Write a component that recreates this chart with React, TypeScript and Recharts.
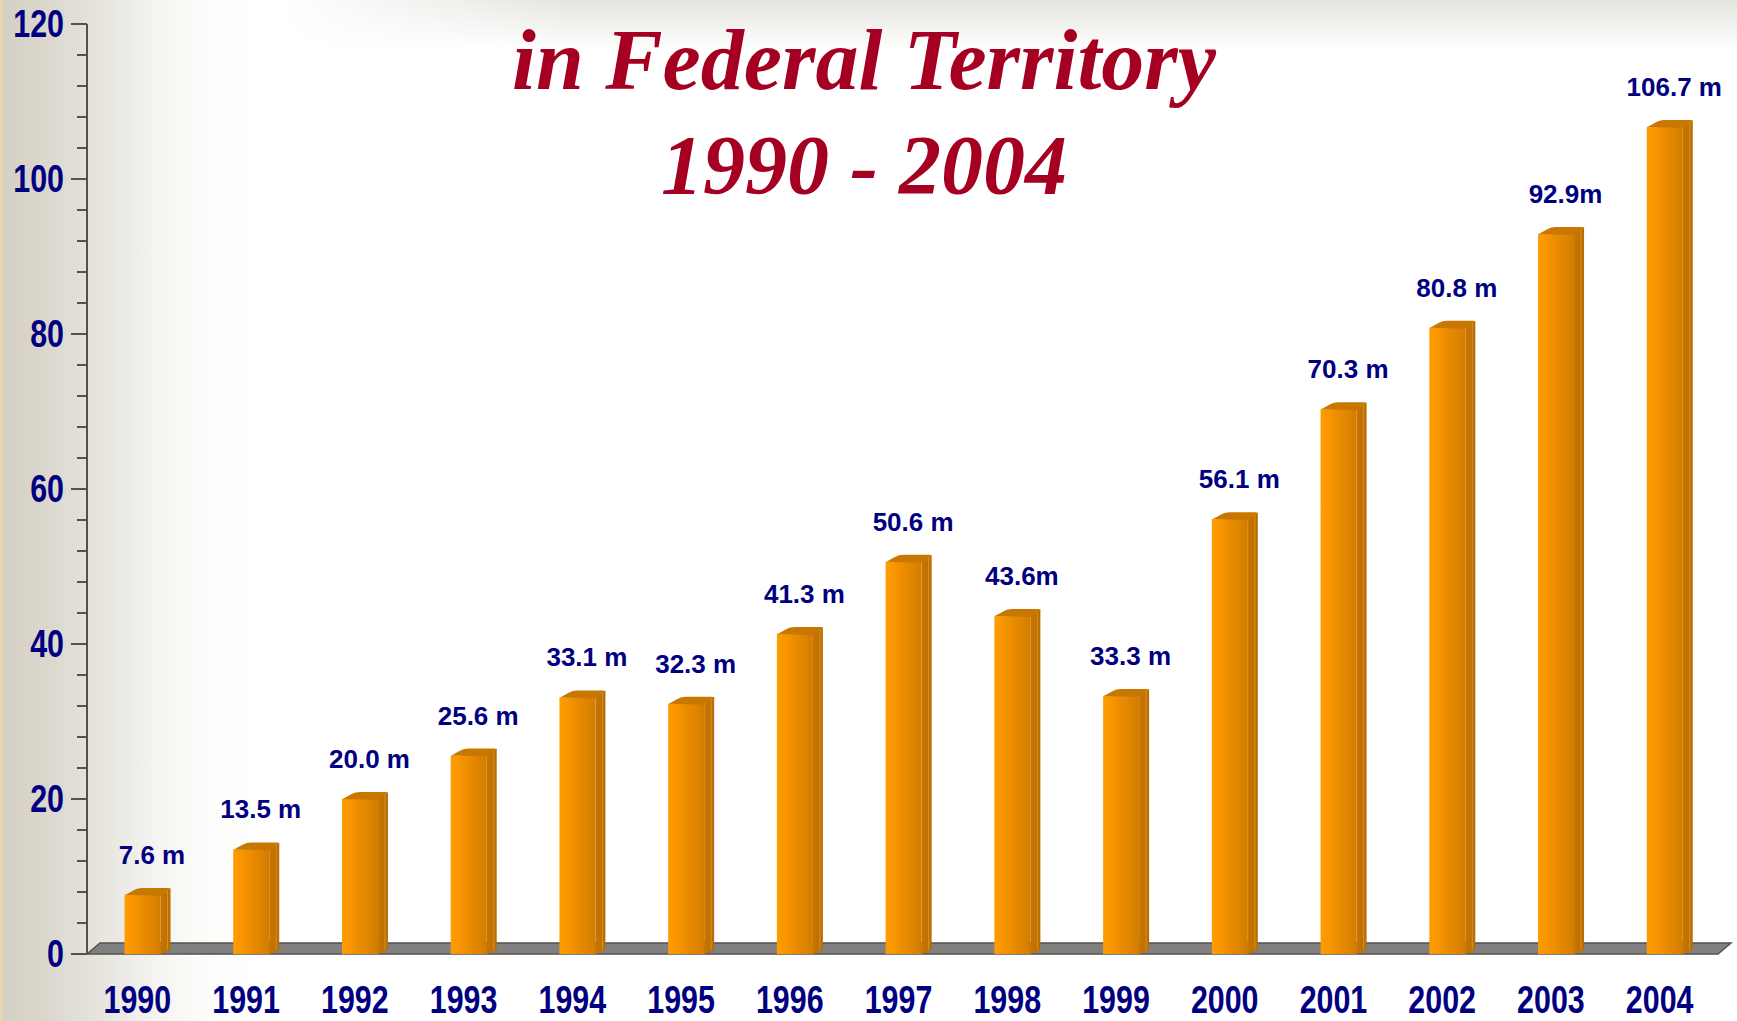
import React from "react";
import { BarChart, Bar, XAxis, YAxis, LabelList, ReferenceArea } from "recharts";

const years = ["1990", "1991", "1992", "1993", "1994", "1995", "1996", "1997", "1998", "1999", "2000", "2001", "2002", "2003", "2004"];
const values = [7.6, 13.5, 20.0, 25.6, 33.1, 32.3, 41.3, 50.6, 43.6, 33.3, 56.1, 70.3, 80.8, 92.9, 106.7];
const valueLabels = ["7.6 m", "13.5 m", "20.0 m", "25.6 m", "33.1 m", "32.3 m", "41.3 m", "50.6 m", "43.6m", "33.3 m", "56.1 m", "70.3 m", "80.8 m", "92.9m", "106.7 m"];
const yTicks = [0, 4, 8, 12, 16, 20, 24, 28, 32, 36, 40, 44, 48, 52, 56, 60, 64, 68, 72, 76, 80, 84, 88, 92, 96, 100, 104, 108, 112, 116, 120];
const titleLines = ["in Federal Territory", "1990 - 2004"];

const data = years.map((y, i) => ({ year: y, value: values[i], label: valueLabels[i] }));

const W = 1737;
const H = 1021;
const NAVY = "#000080";
const AXIS = "#5A5048";

const YTick = (props: any) => {
  const { x, y, payload } = props;
  const v = payload.value;
  const major = v % 20 === 0;
  return (
    <g>
      <line x1={major ? x - 16 : x - 10} x2={x} y1={y} y2={y} stroke={AXIS} strokeWidth={2} />
      {major && (
        <g transform={`translate(${x - 23},${y + 13}) scale(0.8,1)`}>
          <text x={0} y={0} textAnchor="end" fontFamily="'Liberation Sans', Arial, sans-serif" fontWeight="bold" fontSize={38} fill={NAVY}>
            {v}
          </text>
        </g>
      )}
    </g>
  );
};

const XTick = (props: any) => {
  const { x, y, payload } = props;
  return (
    <g transform={`translate(${x - 4},${y + 59}) scale(0.8,1)`}>
      <text x={0} y={0} textAnchor="middle" fontFamily="'Liberation Sans', Arial, sans-serif" fontWeight="bold" fontSize={38} fill={NAVY}>
        {payload.value}
      </text>
    </g>
  );
};

const DX = 10;
const DY = 7;

const Column = (props: any) => {
  const { x, y, width, height } = props;
  if (height == null || width == null) return null;
  const b = y + height;
  const fx = x + 1.5;
  return (
    <g>
      <polygon
        points={`${fx + width},${y} ${fx + width + DX},${y - DY} ${fx + width + DX},${b - 4} ${fx + width},${b}`}
        fill="url(#sideGrad)"
      />
      <rect x={fx} y={y} width={width} height={height} fill="url(#frontGrad)" />
      <path
        d={`M${fx},${y} C${fx + 6},${y - 2} ${fx + 10},${y - DY} ${fx + 18},${y - DY} L${fx + width + DX - 2},${y - DY} L${fx + width + DX},${y - DY + 1} L${fx + width},${y + 1} Z`}
        fill="#C87800"
      />
      <line x1={fx + width + DX - 3} x2={fx + width + DX - 3} y1={y - DY + 2} y2={b - 4} stroke="#E0A040" strokeWidth={1} opacity={0.7} />
    </g>
  );
};

const Floor = (props: any) => {
  const { x, y, width, height } = props;
  const b = y + height;
  const d = 13;
  const h = 11;
  return (
    <polygon
      points={`${x},${b} ${x + width},${b} ${x + width + d},${b - h} ${x + d},${b - h}`}
      fill="#808080"
      stroke={AXIS}
      strokeWidth={1.5}
    />
  );
};

const ValueLabel = (props: any) => {
  const { x, y, width, index } = props;
  return (
    <text
      x={x + width / 2 + 11}
      y={y - 40}
      textAnchor="middle"
      dominantBaseline="central"
      fontFamily="'Liberation Sans', Arial, sans-serif"
      fontWeight="bold"
      fontSize={26}
      fill={NAVY}
    >
      {valueLabels[index]}
    </text>
  );
};

export default function App() {
  return (
    <div
      style={{
        position: "absolute",
        left: 0,
        top: 0,
        width: W,
        height: H,
        overflow: "hidden",
        background:
          "linear-gradient(to right, #E9D6AE 0px, #E9D6AE 2px, #D5D0C4 3px, #DCD8CE 50px, #E9E7E1 110px, #F6F5F2 160px, #FDFDFC 210px, #FFFFFF 260px)",
      }}
    >
      <div
        style={{
          position: "absolute",
          left: 280,
          top: 0,
          width: W - 280,
          height: 50,
          background: "linear-gradient(to bottom, rgba(226,224,218,0.9), rgba(255,255,255,0))",
          WebkitMaskImage: "linear-gradient(to right, rgba(0,0,0,0), rgba(0,0,0,1) 300px)",
          maskImage: "linear-gradient(to right, rgba(0,0,0,0), rgba(0,0,0,1) 300px)",
        }}
      />
      <div style={{ position: "absolute", left: 0, top: 0 }}>
        <BarChart width={W} height={H} data={data} margin={{ top: 24, right: 19, bottom: 0, left: 0 }} barCategoryGap={0}>
          <defs>
            <linearGradient id="frontGrad" x1="0" y1="0" x2="1" y2="0">
              <stop offset="0%" stopColor="#FF9C00" />
              <stop offset="20%" stopColor="#FA9700" />
              <stop offset="40%" stopColor="#F09000" />
              <stop offset="60%" stopColor="#E68900" />
              <stop offset="80%" stopColor="#DC8300" />
              <stop offset="100%" stopColor="#D27D00" />
            </linearGradient>
            <linearGradient id="sideGrad" x1="0" y1="0" x2="1" y2="0">
              <stop offset="0%" stopColor="#C97600" />
              <stop offset="100%" stopColor="#B96C00" />
            </linearGradient>
          </defs>
          <XAxis
            dataKey="year"
            height={67}
            axisLine={false}
            tickLine={false}
            tickSize={0}
            tickMargin={0}
            tick={<XTick />}
            interval={0}
          />
          <YAxis
            width={87}
            domain={[0, 120]}
            ticks={yTicks}
            interval={0}
            axisLine={{ stroke: AXIS, strokeWidth: 2 }}
            tickLine={false}
            tickSize={0}
            tickMargin={0}
            tick={<YTick />}
          />
          <ReferenceArea y1={0} y2={1.4} shape={<Floor />} ifOverflow="visible" />
          <Bar dataKey="value" barSize={36} shape={<Column />} isAnimationActive={false}>
            <LabelList dataKey="label" content={<ValueLabel />} />
          </Bar>
        </BarChart>
      </div>
      <svg width={W} height={H} style={{ position: "absolute", left: 0, top: 0, pointerEvents: "none" }}>
        <text x={864} y={89} textAnchor="middle" fontFamily="'Liberation Serif', 'Times New Roman', serif" fontStyle="italic" fontWeight="bold" fontSize={86} fill="#A50021">
          {titleLines[0]}
        </text>
        <text x={864} y={194} textAnchor="middle" fontFamily="'Liberation Serif', 'Times New Roman', serif" fontStyle="italic" fontWeight="bold" fontSize={84} fill="#A50021">
          {titleLines[1]}
        </text>
      </svg>
    </div>
  );
}
